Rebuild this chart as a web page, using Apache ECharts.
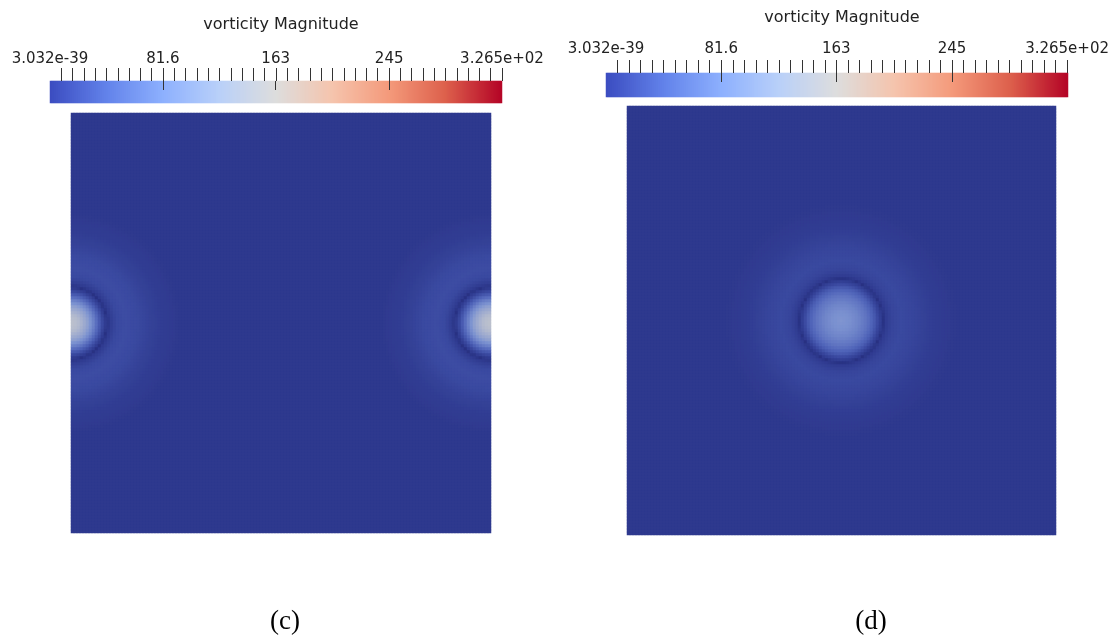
<!DOCTYPE html>
<html>
<head>
<meta charset="utf-8">
<script src="https://cdn.jsdelivr.net/npm/echarts@6/dist/echarts.min.js"></script>
<style>
  html, body { margin: 0; padding: 0; background: #ffffff; }
  #chart { width: 1112px; height: 643px; }
</style>
</head>
<body>
<div id="chart"></div>
<script>
// ---- colour scale of vorticity magnitude (same range in both panels) ----
const scaleMin = 0;
const scaleMax = 326.5;
const tickLabelValues = [0, 81.6, 163, 245, 326.5];
const tickLabels = ['3.032e-39', '81.6', '163', '245', '3.265e+02'];
const majorTickValues = [81.6, 163, 245];
const minorTickDivisions = 40;
const scaleTitle = 'vorticity Magnitude';

// ---- radial vorticity-magnitude profiles through the vortex cores ----
// radius: fraction of the domain side; value: vorticity magnitude
const radiusC    = [0,   0.02, 0.04, 0.055, 0.068, 0.078, 0.086, 0.095, 0.11, 0.13, 0.16, 0.19, 0.22, 0.26, 0.32];
const vorticityC = [168, 155,  120,  80,    40,    12,    0,     8,     20,   24,   20,   12,   7,    4,    4];
const centresC   = [[0, 0.5], [1, 0.5]];   // vortex split across the periodic x boundary

const radiusD    = [0,   0.02, 0.04, 0.06, 0.075, 0.087, 0.097, 0.107, 0.12, 0.14, 0.17, 0.2, 0.23, 0.27, 0.32];
const vorticityD = [104, 98,   85,   66,   43,    16,    0,     8,     16,   20,   16,  10,  6,    4,    4];
const centresD   = [[0.5, 0.5]];

const panelLabels = ['(c)', '(d)'];

// ---- colour maps ----
// diverging cool-to-warm map of the colour bar
const coolWarm = ['#3b4cc0', '#6282ea', '#8db0fe', '#b9d0f9', '#dddddd',
                  '#f5c4ad', '#f49a7b', '#dd604c', '#b40426'];
// the lit slice renders the same scale darker
const fieldStops = [
  [0,     [40, 49, 130]],
  [4,     [47, 58, 143]],
  [20,    [58, 73, 160]],
  [50,    [80, 100, 185]],
  [100,   [124, 146, 208]],
  [165,   [188, 193, 206]],
  [245,   [200, 130, 105]],
  [326.5, [150, 10, 35]]
];
function buildPalette(stops, n) {
  const out = [];
  for (let k = 0; k < n; k++) {
    const v = scaleMin + (scaleMax - scaleMin) * k / (n - 1);
    let s = 0;
    while (s < stops.length - 2 && v > stops[s + 1][0]) s++;
    const a = stops[s], b = stops[s + 1];
    const t = Math.max(0, Math.min(1, (v - a[0]) / (b[0] - a[0])));
    const c = a[1].map((x, i) => Math.round(x + (b[1][i] - x) * t));
    out.push('rgb(' + c.join(',') + ')');
  }
  return out;
}
const fieldPalette = buildPalette(fieldStops, 131);

// ---- field sampling on the heatmap cells ----
function profileAt(radius, values, r) {
  if (r >= radius[radius.length - 1]) return values[values.length - 1];
  let k = 0;
  while (r > radius[k + 1]) k++;
  const t = (r - radius[k]) / (radius[k + 1] - radius[k]);
  return values[k] + (values[k + 1] - values[k]) * t;
}
function buildField(n, centres, radius, values) {
  const data = [];
  for (let i = 0; i < n; i++) {
    const x = (i + 0.5) / n;
    for (let j = 0; j < n; j++) {
      const y = (j + 0.5) / n;
      let r = Infinity;
      centres.forEach(c => { r = Math.min(r, Math.hypot(x - c[0], y - c[1])); });
      data.push([i, j, profileAt(radius, values, r)]);
    }
  }
  return data;
}
const cellsC = 140, cellsD = 143;
const idx = n => Array.from({ length: n }, (_, k) => String(k));
const fieldC = buildField(cellsC, centresC, radiusC, vorticityC);
const fieldD = buildField(cellsD, centresD, radiusD, vorticityD);

// colour-bar strip: one cell per scale step across the bar
function buildStrip(n) {
  return Array.from({ length: n }, (_, k) => [k, 0, scaleMin + (scaleMax - scaleMin) * (k + 0.5) / n]);
}
const minorTicks = Array.from({ length: minorTickDivisions },
  (_, k) => scaleMin + (scaleMax - scaleMin) * (k + 1) / minorTickDivisions);

// ---- layout ----
const fieldBoxes = [
  { left: 71,  top: 113, size: 420 },
  { left: 627, top: 106, size: 429 }
];
const barBoxes = [
  { left: 50,  top: 81, length: 452, thick: 22, cells: 226, titleY: 12, labelMargin: 14 },
  { left: 606, top: 73, length: 462, thick: 24, cells: 231, titleY: 5,  labelMargin: 16 }
];
const fontSans = '"DejaVu Sans", sans-serif';

const chart = echarts.init(document.getElementById('chart'), null, { renderer: 'canvas' });

const grid = [], xAxis = [], yAxis = [], title = [], series = [];

// grids 0,1: the two vorticity fields
fieldBoxes.forEach((b, p) => {
  grid.push({ left: b.left, top: b.top, width: b.size, height: b.size });
  const n = p === 0 ? cellsC : cellsD;
  xAxis.push({ type: 'category', gridIndex: p, data: idx(n), show: false });
  yAxis.push({ type: 'category', gridIndex: p, data: idx(n), show: false });
});
series.push(
  { type: 'heatmap', xAxisIndex: 0, yAxisIndex: 0, data: fieldC, progressive: 0,
    emphasis: { disabled: true }, silent: true },
  { type: 'heatmap', xAxisIndex: 1, yAxisIndex: 1, data: fieldD, progressive: 0,
    emphasis: { disabled: true }, silent: true }
);

// per colour bar: strip grid, tick/label grid, major-tick grid
barBoxes.forEach((b, p) => {
  const box = { left: b.left, top: b.top, width: b.length, height: b.thick };

  // strip
  let g = grid.length;
  grid.push(Object.assign({}, box));
  xAxis.push({ type: 'category', gridIndex: g, data: idx(b.cells), show: false });
  yAxis.push({ type: 'category', gridIndex: g, data: ['0'], show: false });
  series.push({ type: 'heatmap', xAxisIndex: xAxis.length - 1, yAxisIndex: yAxis.length - 1,
    data: buildStrip(b.cells), progressive: 0, emphasis: { disabled: true }, silent: true });

  // ticks above the bar with the value labels
  g = grid.length;
  grid.push(Object.assign({}, box));
  xAxis.push({
    type: 'value', gridIndex: g, position: 'top', min: scaleMin, max: scaleMax, z: 6,
    axisLine: { show: false, onZero: false },
    splitLine: { show: false },
    axisTick: { show: true, inside: false, length: 13, customValues: minorTicks,
                lineStyle: { color: '#333', width: 1 } },
    axisLabel: {
      show: true, customValues: tickLabelValues, margin: b.labelMargin,
      fontFamily: fontSans, fontSize: 15, color: '#222',
      formatter: v => tickLabels[tickLabelValues.indexOf(v)] ?? '',
      showMinLabel: true, showMaxLabel: true, hideOverlap: false
    }
  });
  yAxis.push({ type: 'value', gridIndex: g, show: false, min: 0, max: 1 });

  // longer marks at the labelled values reaching into the bar
  g = grid.length;
  grid.push(Object.assign({}, box));
  xAxis.push({
    type: 'value', gridIndex: g, position: 'top', min: scaleMin, max: scaleMax, z: 6,
    axisLine: { show: false, onZero: false },
    splitLine: { show: false },
    axisLabel: { show: false },
    axisTick: { show: true, inside: true, length: 9, customValues: majorTickValues,
                lineStyle: { color: '#333', width: 1 } }
  });
  yAxis.push({ type: 'value', gridIndex: g, show: false, min: 0, max: 1 });

  title.push({
    text: scaleTitle, left: b.left + b.length / 2, top: b.titleY, textAlign: 'center',
    textStyle: { fontFamily: fontSans, fontSize: 16, fontWeight: 'normal', color: '#222' }
  });
});

const stripSeries = [2, 3];
const captionX = [285, 871];

chart.setOption({
  animation: false,
  backgroundColor: '#ffffff',
  title: title,
  grid: grid,
  xAxis: xAxis,
  yAxis: yAxis,
  visualMap: [
    { type: 'continuous', show: false, seriesIndex: [0, 1],
      min: scaleMin, max: scaleMax, inRange: { color: fieldPalette } },
    { type: 'continuous', show: false, seriesIndex: stripSeries,
      min: scaleMin, max: scaleMax, inRange: { color: coolWarm } }
  ],
  series: series,
  graphic: panelLabels.map((t, p) => ({
    type: 'text', x: captionX[p], y: 622,
    style: { text: t, fontFamily: '"Liberation Serif", serif', fontSize: 27, fill: '#000',
             textAlign: 'center', textVerticalAlign: 'middle' }
  }))
});
</script>
</body>
</html>
